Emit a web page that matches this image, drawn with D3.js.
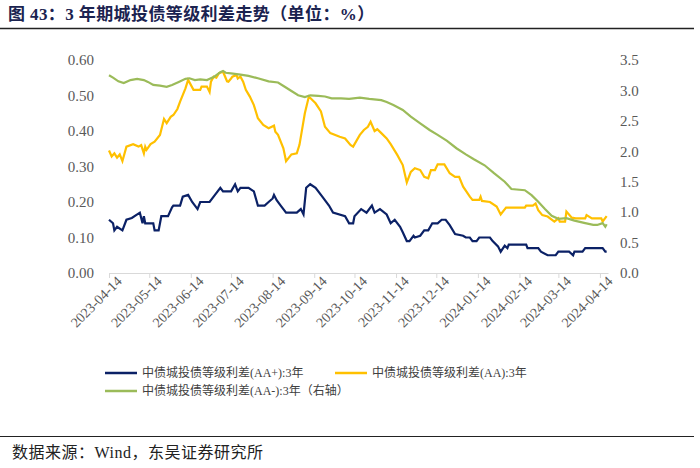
<!DOCTYPE html>
<html>
<head>
<meta charset="utf-8">
<script src="https://cdn.jsdelivr.net/npm/d3@7"></script>
<style>
  body { margin: 0; background: #fff; }
  svg { display: block; }
  .axis text { font-family: "Liberation Serif", "Noto Sans CJK SC", serif; fill: #595959; }
</style>
</head>
<body>
<svg id="chart" width="700" height="468"></svg>
<script>
// 中债城投债等级利差(AA+):3年  (left axis)
const aaPlus = [
  ["2023-04-14",0.15],["2023-04-17",0.14],["2023-04-18",0.12],["2023-04-20",0.13],["2023-04-24",0.12],
  ["2023-04-27",0.15],["2023-05-01",0.155],["2023-05-07",0.17],["2023-05-09",0.14],["2023-05-10",0.16],
  ["2023-05-11",0.14],["2023-05-17",0.14],["2023-05-18",0.12],["2023-05-21",0.12],["2023-05-23",0.16],
  ["2023-05-28",0.16],["2023-05-31",0.185],["2023-06-01",0.19],["2023-06-06",0.19],["2023-06-08",0.215],
  ["2023-06-12",0.22],["2023-06-15",0.20],["2023-06-19",0.18],["2023-06-21",0.20],["2023-06-28",0.20],
  ["2023-07-02",0.22],["2023-07-06",0.24],["2023-07-08",0.23],["2023-07-14",0.23],["2023-07-17",0.25],
  ["2023-07-19",0.23],["2023-07-21",0.24],["2023-07-27",0.24],["2023-07-31",0.23],["2023-08-03",0.19],
  ["2023-08-08",0.19],["2023-08-11",0.20],["2023-08-14",0.21],["2023-08-15",0.22],["2023-08-17",0.205],
  ["2023-08-20",0.19],["2023-08-24",0.17],["2023-09-01",0.17],["2023-09-04",0.18],["2023-09-06",0.165],
  ["2023-09-08",0.24],["2023-09-11",0.25],["2023-09-15",0.24],["2023-09-20",0.215],["2023-09-25",0.19],
  ["2023-09-28",0.17],["2023-10-07",0.16],["2023-10-10",0.14],["2023-10-13",0.14],["2023-10-14",0.16],
  ["2023-10-19",0.18],["2023-10-23",0.17],["2023-10-27",0.19],["2023-10-29",0.17],["2023-11-02",0.18],
  ["2023-11-07",0.165],["2023-11-10",0.14],["2023-11-13",0.15],["2023-11-17",0.13],["2023-11-19",0.115],
  ["2023-11-22",0.09],["2023-11-24",0.09],["2023-11-27",0.105],["2023-11-28",0.10],["2023-12-02",0.105],
  ["2023-12-05",0.12],["2023-12-08",0.12],["2023-12-11",0.14],["2023-12-15",0.14],["2023-12-18",0.15],
  ["2023-12-21",0.15],["2023-12-24",0.135],["2023-12-28",0.11],["2024-01-03",0.105],["2024-01-05",0.10],
  ["2024-01-08",0.10],["2024-01-10",0.09],["2024-01-13",0.09],["2024-01-15",0.10],["2024-01-23",0.10],
  ["2024-01-25",0.09],["2024-01-29",0.075],["2024-01-31",0.06],["2024-02-03",0.077],["2024-02-05",0.07],
  ["2024-02-06",0.08],["2024-02-19",0.08],["2024-02-20",0.07],["2024-02-28",0.07],["2024-03-01",0.06],
  ["2024-03-06",0.05],["2024-03-12",0.05],["2024-03-14",0.06],["2024-03-22",0.06],["2024-03-25",0.05],
  ["2024-03-26",0.06],["2024-04-01",0.06],["2024-04-03",0.07],["2024-04-16",0.07],["2024-04-18",0.06],
  ["2024-04-19",0.06]
];

// 中债城投债等级利差(AA):3年  (left axis)
const aa = [
  ["2023-04-14",0.345],["2023-04-16",0.328],["2023-04-18",0.337],["2023-04-20",0.325],["2023-04-22",0.334],
  ["2023-04-24",0.315],["2023-04-27",0.356],["2023-05-02",0.363],["2023-05-06",0.356],["2023-05-08",0.36],
  ["2023-05-10",0.337],["2023-05-11",0.356],["2023-05-12",0.347],["2023-05-15",0.363],["2023-05-18",0.37],
  ["2023-05-22",0.389],["2023-05-25",0.434],["2023-05-27",0.422],["2023-05-30",0.44],["2023-06-01",0.445],
  ["2023-06-04",0.462],["2023-06-06",0.483],["2023-06-10",0.52],["2023-06-12",0.544],["2023-06-16",0.516],
  ["2023-06-21",0.516],["2023-06-22",0.525],["2023-06-26",0.525],["2023-06-28",0.51],["2023-06-29",0.539],
  ["2023-07-01",0.553],["2023-07-03",0.55],["2023-07-05",0.563],["2023-07-08",0.567],["2023-07-11",0.54],
  ["2023-07-12",0.539],["2023-07-14",0.548],["2023-07-15",0.553],["2023-07-18",0.558],["2023-07-19",0.548],
  ["2023-07-21",0.553],["2023-07-23",0.539],["2023-07-25",0.516],["2023-07-28",0.497],["2023-07-31",0.473],
  ["2023-08-03",0.436],["2023-08-07",0.417],["2023-08-11",0.408],["2023-08-15",0.415],["2023-08-16",0.398],
  ["2023-08-18",0.389],["2023-08-22",0.351],["2023-08-24",0.315],["2023-08-28",0.334],["2023-09-01",0.337],
  ["2023-09-03",0.361],["2023-09-07",0.45],["2023-09-10",0.497],["2023-09-15",0.478],["2023-09-19",0.455],
  ["2023-09-22",0.412],["2023-09-26",0.394],["2023-10-03",0.384],["2023-10-07",0.379],["2023-10-11",0.361],
  ["2023-10-13",0.356],["2023-10-18",0.389],["2023-10-21",0.403],["2023-10-24",0.412],["2023-10-26",0.426],
  ["2023-10-29",0.40],["2023-10-31",0.405],["2023-11-03",0.394],["2023-11-07",0.379],["2023-11-10",0.363],
  ["2023-11-15",0.332],["2023-11-19",0.304],["2023-11-22",0.255],["2023-11-25",0.285],["2023-11-28",0.295],
  ["2023-12-02",0.29],["2023-12-05",0.271],["2023-12-08",0.267],["2023-12-10",0.29],["2023-12-13",0.29],
  ["2023-12-15",0.306],["2023-12-20",0.306],["2023-12-24",0.281],["2023-12-28",0.271],["2023-12-31",0.271],
  ["2024-01-03",0.243],["2024-01-08",0.215],["2024-01-10",0.206],["2024-01-15",0.206],["2024-01-16",0.215],
  ["2024-01-17",0.203],["2024-01-23",0.20],["2024-01-28",0.187],["2024-01-31",0.165],["2024-02-04",0.184],
  ["2024-02-18",0.184],["2024-02-19",0.19],["2024-02-24",0.19],["2024-02-26",0.196],["2024-02-28",0.177],
  ["2024-03-02",0.163],["2024-03-06",0.159],["2024-03-11",0.145],["2024-03-14",0.154],["2024-03-15",0.145],
  ["2024-03-19",0.145],["2024-03-20",0.173],["2024-03-24",0.156],["2024-03-27",0.154],["2024-04-03",0.154],
  ["2024-04-04",0.163],["2024-04-08",0.154],["2024-04-15",0.154],["2024-04-16",0.145],["2024-04-19",0.16]
];

// 中债城投债等级利差(AA-):3年  (right axis)
const aaMinus = [
  ["2023-04-14",3.25],["2023-04-17",3.21],["2023-04-21",3.15],["2023-04-25",3.12],["2023-04-30",3.17],
  ["2023-05-05",3.19],["2023-05-10",3.17],["2023-05-13",3.14],["2023-05-17",3.09],["2023-05-22",3.08],
  ["2023-05-27",3.06],["2023-05-31",3.09],["2023-06-05",3.14],["2023-06-10",3.19],["2023-06-13",3.20],
  ["2023-06-17",3.17],["2023-06-21",3.18],["2023-06-26",3.17],["2023-07-01",3.22],["2023-07-06",3.30],
  ["2023-07-08",3.32],["2023-07-10",3.29],["2023-07-14",3.28],["2023-07-21",3.26],["2023-07-27",3.24],
  ["2023-08-03",3.20],["2023-08-11",3.15],["2023-08-18",3.13],["2023-08-23",3.06],["2023-08-28",2.99],
  ["2023-09-02",2.92],["2023-09-07",2.89],["2023-09-11",2.92],["2023-09-17",2.91],["2023-09-22",2.90],
  ["2023-09-27",2.87],["2023-10-04",2.87],["2023-10-10",2.86],["2023-10-18",2.88],["2023-10-25",2.86],
  ["2023-11-03",2.84],["2023-11-07",2.81],["2023-11-12",2.76],["2023-11-19",2.68],["2023-11-25",2.57],
  ["2023-12-02",2.46],["2023-12-09",2.35],["2023-12-15",2.27],["2023-12-22",2.17],["2023-12-29",2.05],
  ["2024-01-05",1.95],["2024-01-11",1.87],["2024-01-19",1.77],["2024-01-26",1.64],["2024-02-03",1.50],
  ["2024-02-08",1.38],["2024-02-18",1.36],["2024-02-23",1.28],["2024-02-28",1.17],["2024-03-04",1.05],
  ["2024-03-09",0.94],["2024-03-14",0.89],["2024-03-20",0.90],["2024-03-26",0.86],["2024-04-03",0.82],
  ["2024-04-09",0.79],["2024-04-12",0.79],["2024-04-16",0.82],["2024-04-18",0.76],["2024-04-19",0.80]
];

const xTickLabels = ["2023-04-14","2023-05-14","2023-06-14","2023-07-14","2023-08-14","2023-09-14",
  "2023-10-14","2023-11-14","2023-12-14","2024-01-14","2024-02-14","2024-03-14","2024-04-14"];
const leftTicks = [0, 0.1, 0.2, 0.3, 0.4, 0.5, 0.6];
const rightTicks = [0, 0.5, 1.0, 1.5, 2.0, 2.5, 3.0, 3.5];

const seriesNames = ["中债城投债等级利差(AA+):3年", "中债城投债等级利差(AA):3年", "中债城投债等级利差(AA-):3年（右轴）"];
const colors = ["#0b2166", "#ffc000", "#9bbb59"];

const parse = d3.timeParse("%Y-%m-%d");
const svg = d3.select("#chart");

// plot area
const plotLeft = 109, plotRight = 608, plotTop = 60, plotBottom = 273;

const x = d3.scaleTime()
  .domain([parse("2023-04-14"), parse("2024-04-20")])
  .range([plotLeft, plotRight]);
const yL = d3.scaleLinear().domain([0, 0.6]).range([plotBottom, plotTop]);
const yR = d3.scaleLinear().domain([0, 3.5]).range([plotBottom, plotTop]);

// title
svg.append("text")
  .attr("x", 8).attr("y", 20)
  .style("font-family", "'Liberation Serif', 'Noto Sans CJK SC', serif")
  .style("font-weight", "bold")
  .style("font-size", "17px")
  .style("letter-spacing", "0.4px")
  .style("fill", "#1b2350")
  .text("图 43：3 年期城投债等级利差走势（单位：%）");
svg.append("line").attr("x1", 0).attr("x2", 694).attr("y1", 28.5).attr("y2", 28.5)
  .style("stroke", "#222").style("stroke-width", 1.5);

// x axis
const xAxis = svg.append("g")
  .attr("class", "axis")
  .attr("transform", `translate(0,${plotBottom})`)
  .call(d3.axisBottom(x)
    .tickValues(xTickLabels.map(parse))
    .tickFormat(d3.timeFormat("%Y-%m-%d"))
    .tickSize(5)
    .tickSizeOuter(0));
xAxis.select(".domain").style("stroke", "#d9d9d9");
xAxis.selectAll(".tick line").style("stroke", "#d9d9d9");
xAxis.selectAll("text")
  .style("font-size", "14px")
  .attr("text-anchor", "end")
  .attr("transform", "rotate(-45)")
  .attr("dx", "0.2em")
  .attr("dy", "0.55em");

// left axis
const yAxisL = svg.append("g")
  .attr("class", "axis")
  .attr("transform", `translate(${plotLeft - 12},0)`)
  .call(d3.axisLeft(yL).tickValues(leftTicks).tickFormat(d3.format(".2f")).tickSize(0));
yAxisL.select(".domain").remove();
yAxisL.selectAll("text").style("font-size", "15px");

// right axis
const yAxisR = svg.append("g")
  .attr("class", "axis")
  .attr("transform", `translate(${plotRight + 9},0)`)
  .call(d3.axisRight(yR).tickValues(rightTicks).tickFormat(d3.format(".1f")).tickSize(0));
yAxisR.select(".domain").remove();
yAxisR.selectAll("text").style("font-size", "15px");

// lines
const lineL = d3.line().x(d => x(parse(d[0]))).y(d => yL(d[1]));
const lineR = d3.line().x(d => x(parse(d[0]))).y(d => yR(d[1]));

svg.append("path").datum(aaPlus).attr("d", lineL)
  .style("fill", "none").style("stroke", colors[0]).style("stroke-width", 2.2);
svg.append("path").datum(aa).attr("d", lineL)
  .style("fill", "none").style("stroke", colors[1]).style("stroke-width", 2.2);
svg.append("path").datum(aaMinus).attr("d", lineR)
  .style("fill", "none").style("stroke", colors[2]).style("stroke-width", 2.2);

// legend
const legendPos = [[105, 373], [335, 373], [105, 391]];
seriesNames.forEach((name, i) => {
  const g = svg.append("g").attr("transform", `translate(${legendPos[i][0]},${legendPos[i][1]})`);
  g.append("line").attr("x1", 0).attr("x2", 32).attr("y1", 0).attr("y2", 0)
    .style("stroke", colors[i]).style("stroke-width", 2.5);
  g.append("text").attr("x", 37).attr("y", 4)
    .style("font-family", "'Liberation Serif', 'Noto Sans CJK SC', serif")
    .style("font-size", "12px")
    .style("fill", "#404040")
    .text(name);
});

// footer
svg.append("line").attr("x1", 0).attr("x2", 694).attr("y1", 436.5).attr("y2", 436.5)
  .style("stroke", "#222").style("stroke-width", 1.2);
svg.append("text")
  .attr("x", 12).attr("y", 458)
  .style("font-family", "'Liberation Serif', 'Noto Sans CJK SC', serif")
  .style("font-size", "16px")
  .style("letter-spacing", "0.5px")
  .style("fill", "#222")
  .text("数据来源：Wind，东吴证券研究所");
</script>
</body>
</html>
